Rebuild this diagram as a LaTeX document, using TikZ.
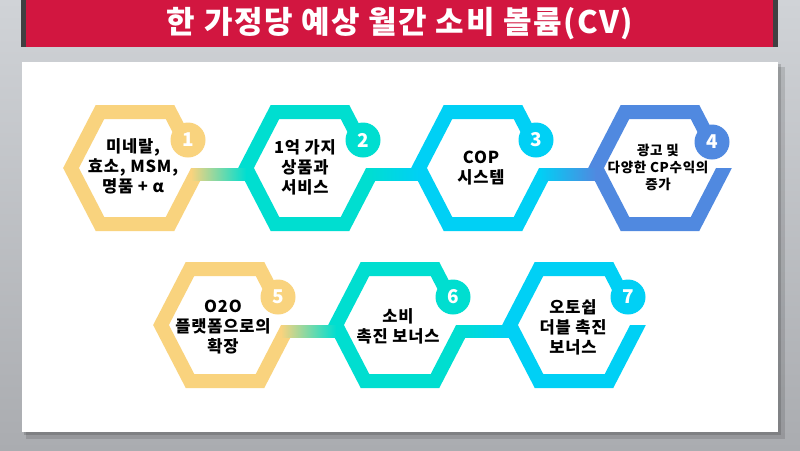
\documentclass[tikz,border=0pt]{standalone}
\usepackage{fontspec}
\setmainfont{Noto Sans CJK KR}
\usetikzlibrary{calc}
\definecolor{cgold}{RGB}{249,211,126}
\definecolor{cteal}{RGB}{0,222,208}
\definecolor{ccyan}{RGB}{0,208,245}
\definecolor{cblue}{RGB}{80,137,224}
\definecolor{ctitle}{RGB}{210,22,64}
\definecolor{cframe}{RGB}{64,64,66}
\definecolor{cbgtop}{RGB}{208,211,215}
\definecolor{cbgbot}{RGB}{170,172,176}
\begin{document}
\begin{tikzpicture}[x=1pt, y=-1pt,
    ring/.style={line width=14, line join=miter},
    badge/.style={circle, minimum size=35, inner sep=0, text=white, font=\bfseries\fontsize{19}{19}\selectfont},
    hextext/.style={align=center, font=\bfseries\fontsize{16.5}{20}\selectfont\addfontfeatures{LetterSpace=5}}]
    \useasboundingbox (0,0) rectangle (800,450);
    % Background and title bar
    \shade[top color=cbgtop, bottom color=cbgbot] (0,0) rectangle (800,450);
    \fill[cframe] (21,0) rectangle (778,47);
    \fill[ctitle] (26,0) rectangle (773,47);
    \node[text=white, font=\bfseries\fontsize{31}{33}\selectfont\addfontfeatures{LetterSpace=5}] (title) at (400,24) {한 가정당 예상 월간 소비 볼륨(CV)};
    % Panel
    \fill[black, opacity=0.12] (26,67) rectangle (785,439);
    \fill[black, opacity=0.15] (24,64) rectangle (781,435);
    \fill[white] (22,62) rectangle (778,432);

    % Hex 1
    \begin{scope}[shift={(135,168)}]
        \begin{scope}
            \clip (-80,-80) -- (56,-80) -- (56,0) -- (90,0) -- (90,80) -- (-80,80) -- cycle;
            \draw[ring, cgold] (49.5,-28) -- (35,-56) -- (-35,-56) -- (-64,0) -- (-35,56) -- (35,56) -- (64,0) -- (78,-28);
        \end{scope}
        \coordinate (h1in) at (-64,0);
        \coordinate (h1out) at (56,0);
        \node[badge, fill=cgold] (n1) at (53,-28) {1};
        \node[hextext] (mineral) at (-2,-2) {미네랄,\\효소, MSM,\\명품 + α};
    \end{scope}

    % Hex 2
    \begin{scope}[shift={(310,168)}]
        \begin{scope}
            \clip (-80,-80) -- (56,-80) -- (56,0) -- (90,0) -- (90,80) -- (-80,80) -- cycle;
            \draw[ring, cteal] (49.5,-28) -- (35,-56) -- (-35,-56) -- (-64,0) -- (-35,56) -- (35,56) -- (64,0) -- (78,-28);
        \end{scope}
        \coordinate (h2in) at (-64,0);
        \coordinate (h2out) at (56,0);
        \node[badge, fill=cteal] (n2) at (53,-28) {2};
        \node[hextext] (goods) at (-5,-1) {1억 가지\\상품과\\서비스};
    \end{scope}

    % Hex 3
    \begin{scope}[shift={(483,168)}]
        \begin{scope}
            \clip (-80,-80) -- (56,-80) -- (56,0) -- (90,0) -- (90,80) -- (-80,80) -- cycle;
            \draw[ring, ccyan] (49.5,-28) -- (35,-56) -- (-35,-56) -- (-64,0) -- (-35,56) -- (35,56) -- (64,0) -- (78,-28);
        \end{scope}
        \coordinate (h3in) at (-64,0);
        \coordinate (h3out) at (56,0);
        \node[badge, fill=ccyan] (n3) at (53,-28) {3};
        \node[hextext] (cop) at (-2,0) {COP\\시스템};
    \end{scope}

    % Hex 4
    \begin{scope}[shift={(660,168)}]
        \begin{scope}
            \clip (-80,-80) -- (56,-80) -- (56,0) -- (90,0) -- (90,80) -- (-80,80) -- cycle;
            \draw[ring, cblue] (49.5,-28) -- (35,-56) -- (-35,-56) -- (-64,0) -- (-35,56) -- (35,56) -- (64,0) -- (78,-28);
        \end{scope}
        \coordinate (h4in) at (-64,0);
        \node[badge, fill=cblue] (n4) at (52,-26) {4};
        \node[hextext, font=\bfseries\fontsize{13.5}{17}\selectfont\addfontfeatures{LetterSpace=5}] (adrev) at (-2,-1) {광고 및\\다양한 CP수익의\\증가};
    \end{scope}

    % Hex 5
    \begin{scope}[shift={(225,325)}]
        \begin{scope}
            \clip (-80,-80) -- (56,-80) -- (56,0) -- (90,0) -- (90,80) -- (-80,80) -- cycle;
            \draw[ring, cgold] (49.5,-28) -- (35,-56) -- (-35,-56) -- (-64,0) -- (-35,56) -- (35,56) -- (64,0) -- (78,-28);
        \end{scope}
        \coordinate (h5out) at (56,0);
        \node[badge, fill=cgold] (n5) at (53,-28) {5};
        \node[hextext] (platform) at (-2,2) {O2O\\플랫폼으로의\\확장};
    \end{scope}

    % Hex 6
    \begin{scope}[shift={(400,325)}]
        \begin{scope}
            \clip (-80,-80) -- (56,-80) -- (56,0) -- (90,0) -- (90,80) -- (-80,80) -- cycle;
            \draw[ring, cteal] (49.5,-28) -- (35,-56) -- (-35,-56) -- (-64,0) -- (-35,56) -- (35,56) -- (64,0) -- (78,-28);
        \end{scope}
        \coordinate (h6in) at (-64,0);
        \coordinate (h6out) at (56,0);
        \node[badge, fill=cteal] (n6) at (53,-28) {6};
        \node[hextext] (bonus) at (-2,1) {소비\\촉진 보너스};
    \end{scope}

    % Hex 7
    \begin{scope}[shift={(574,325)}]
        \begin{scope}
            \clip (-80,-80) -- (56,-80) -- (56,0) -- (90,0) -- (90,80) -- (-80,80) -- cycle;
            \draw[ring, ccyan] (49.5,-28) -- (35,-56) -- (-35,-56) -- (-64,0) -- (-35,56) -- (35,56) -- (64,0) -- (78,-28);
        \end{scope}
        \coordinate (h7in) at (-64,0);
        \node[badge, fill=ccyan] (n7) at (54,-28) {7};
        \node[hextext] (autoship) at (-1,2) {오토쉽\\더블 촉진\\보너스};
    \end{scope}

    % Links
    \shade[left color=cgold, right color=cteal] (h1out) rectangle ($(h2in)+(0,12)$);
    \shade[left color=cteal, right color=ccyan] (h2out) rectangle ($(h3in)+(0,12)$);
    \shade[left color=ccyan, right color=cblue] (h3out) rectangle ($(h4in)+(0,12)$);
    \shade[left color=cgold, right color=cteal] (h5out) rectangle ($(h6in)+(0,12)$);
    \shade[left color=cteal, right color=ccyan] (h6out) rectangle ($(h7in)+(0,12)$);
\end{tikzpicture}
\end{document}
